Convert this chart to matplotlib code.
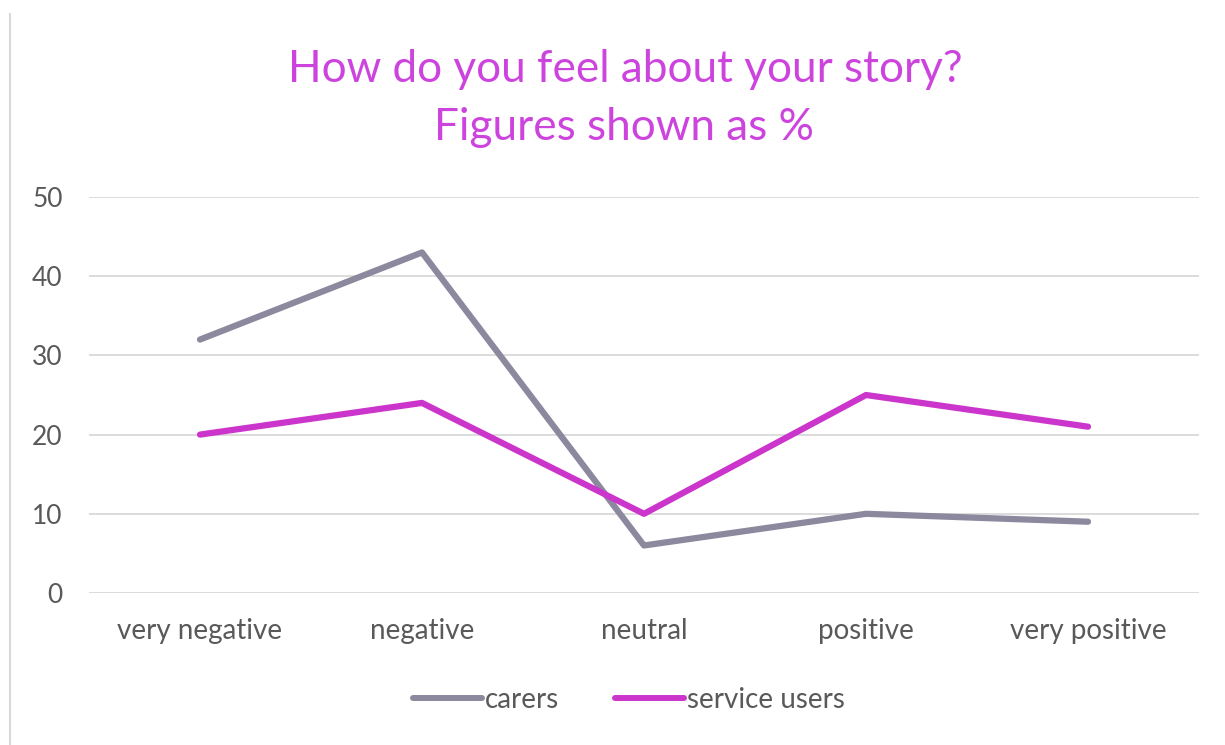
import matplotlib
matplotlib.use("Agg")
import matplotlib.pyplot as plt
from matplotlib.lines import Line2D

categories = ["very negative", "negative", "neutral", "positive", "very positive"]
carers = [32, 43, 6, 10, 9]
service_users = [20, 24, 10, 25, 21]
y_ticks = [0, 10, 20, 30, 40, 50]

plt.rcParams["font.family"] = ["Lato", "DejaVu Sans"]

fig = plt.figure(figsize=(12.25, 7.45), dpi=100)
ax = fig.add_axes([89 / 1225, 1 - 593 / 745, 1110 / 1225, 396 / 745])

x = list(range(len(categories)))
grey = "#8C889E"
magenta = "#CC35CC"
ax.plot(x, carers, color=grey, lw=4.5, solid_capstyle="round", solid_joinstyle="round", label="carers")
ax.plot(x, service_users, color=magenta, lw=4.5, solid_capstyle="round", solid_joinstyle="round", label="service users")

ax.set_xlim(-0.5, len(categories) - 0.5)
ax.set_ylim(0, 50)
ax.set_yticks(y_ticks)
ax.set_xticks(x)
ax.set_xticklabels(categories)
ax.tick_params(axis="both", length=0, labelsize=20, colors="#595959")
ax.tick_params(axis="y", labelsize=19, pad=19)
ax.tick_params(axis="x", pad=18)
ax.grid(axis="y", color="#D9D9D9", lw=1.3)
ax.set_axisbelow(True)
for s in ax.spines.values():
    s.set_visible(False)

fig.text(625 / 1225, 1 - 70 / 745, "How do you feel about your story?", ha="center", va="center",
         fontsize=31.8, color="#CC44DD")
fig.text(624 / 1225, 1 - 127 / 745, "Figures shown as %", ha="center", va="center",
         fontsize=31.8, color="#CC44DD")

handles = [Line2D([], [], color=grey, lw=4.3, solid_capstyle="round"),
           Line2D([], [], color=magenta, lw=4.3, solid_capstyle="round")]
fig.legend(handles, ["carers", "service users"], loc="center", bbox_to_anchor=(629 / 1225, 1 - 700 / 745),
           ncol=2, frameon=False, fontsize=20, labelcolor="#595959", handlelength=2.5,
           handletextpad=0.1, columnspacing=2.0)

# thin frame line along the left edge
fig.add_artist(Line2D([9.5 / 1225, 9.5 / 1225], [0, 1 - 14 / 745], transform=fig.transFigure,
                      color="#D9D9D9", lw=1.5))

fig.savefig("out.png", dpi=100, facecolor="white")
